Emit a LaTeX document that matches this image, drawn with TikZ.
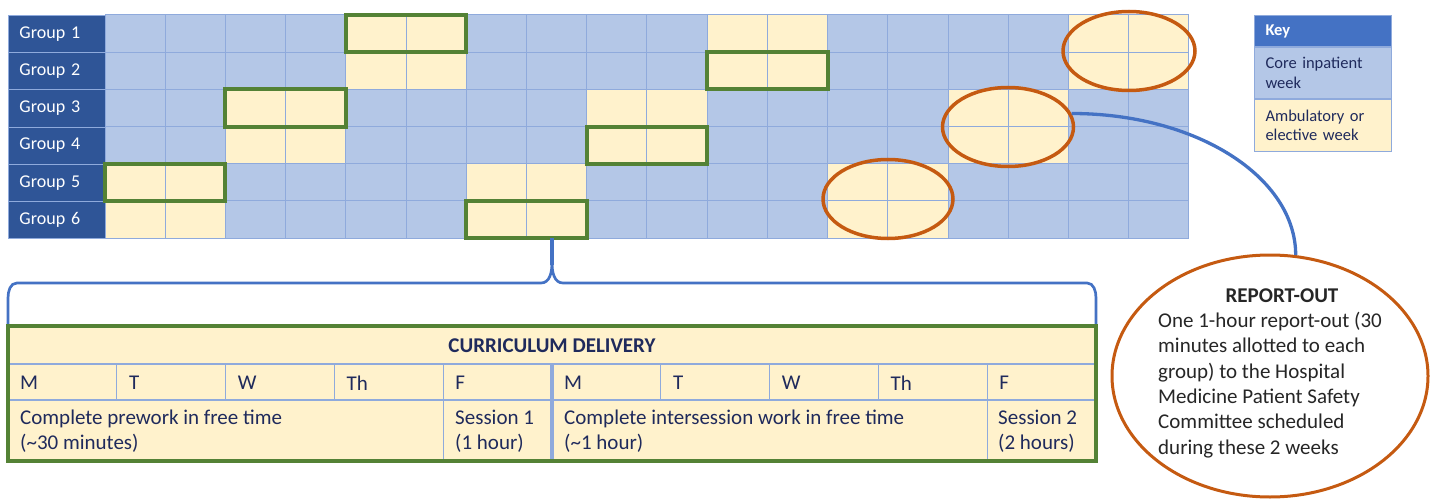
\documentclass[tikz,border=0pt]{standalone}
\usepackage{fontspec}
\setmainfont{Carlito}
\usepackage{tikz}
\usetikzlibrary{shapes.geometric, calc, positioning}

\definecolor{labelblue}{HTML}{2F5597}
\definecolor{cellblue}{HTML}{B4C7E7}
\definecolor{cellyellow}{HTML}{FFF2CC}
\definecolor{gridblue}{HTML}{8FAADC}
\definecolor{boxgreen}{HTML}{548235}
\definecolor{ovalorange}{HTML}{C55A11}
\definecolor{linkblue}{HTML}{4472C4}
\definecolor{textnavy}{HTML}{1F2A5C}
\definecolor{textdark}{HTML}{262626}

\tikzset{
  grouplabel/.style={anchor=north west, fill=labelblue, draw=gridblue, line width=1,
    text=white, text width=75pt, inner xsep=11pt, inner ysep=0pt,
    minimum height=37.17pt, align=left, font=\fontsize{18}{22}\selectfont},
  weekbox/.style={draw=boxgreen, line width=4},
  oval/.style={ellipse, draw=ovalorange, line width=3.5, inner sep=0pt},
  keycell/.style={anchor=north west, draw=gridblue, line width=1, text=textnavy,
    text width=115pt, inner xsep=11pt, inner ysep=0pt, align=left,
    font=\fontsize{16.5}{19.5}\selectfont},
  daytext/.style={anchor=west, inner sep=0pt, text=textnavy,
    font=\fontsize{21}{25.3}\selectfont},
  worktext/.style={daytext, align=left},
  link/.style={draw=linkblue, line width=2.7}
}

\begin{document}
\begin{tikzpicture}[x=1pt, y=-1pt]
  \useasboundingbox (0,0) rectangle (1430,500);

  % Week grid
  \fill[cellblue] (105,15) rectangle (1189,238);
  \foreach \g/\s in {1/5, 2/5, 3/3, 4/3, 5/1, 6/1}
    \foreach \k in {0,6,12}
      \fill[cellyellow] ({105+(\s+\k-1)*60.22},{15+(\g-1)*37.17}) rectangle +(120.44,37.17);
  \foreach \i in {0,...,18}
    \draw[gridblue, line width=1] ({105+\i*60.22},15) -- ({105+\i*60.22},238);
  \foreach \j in {0,...,6}
    \draw[gridblue, line width=1] (105,{15+\j*37.17}) -- (1189,{15+\j*37.17});

  % Group labels
  \foreach \g in {1,...,6}
    \node[grouplabel] (group\g) at (8,{15+(\g-1)*37.17}) {Group \g};

  % Curriculum weeks
  \foreach \g/\c in {1/5, 2/11, 3/3, 4/9, 5/1, 6/7}
    \draw[weekbox] ({105+(\c-1)*60.22},{15+(\g-1)*37.17}) rectangle +(120.44,37.17);

  % Report-out weeks
  \node[oval, minimum width=132pt, minimum height=79pt] (ovalA) at (1129,51) {};
  \node[oval, minimum width=131pt, minimum height=79pt] (ovalB) at (1008,127) {};
  \node[oval, minimum width=130pt, minimum height=79pt] (ovalC) at (888,199) {};

  % Key
  \node[keycell, fill=linkblue, text=white, minimum height=31pt,
        font=\fontsize{16.5}{19.5}\selectfont\bfseries] (keyhead) at (1254,15) {Key};
  \node[keycell, fill=cellblue, minimum height=51pt] (keycore) at (keyhead.south west) {Core inpatient\\week};
  \node[keycell, fill=cellyellow, minimum height=52pt] (keyamb) at (keycore.south west) {Ambulatory or\\elective week};

  % Brace
  \coordinate (bracetip) at (552,238);
  \draw[link] (8,326) -- (8,298) to[out=90,in=180] (17,283) -- (541,283)
    to[out=0,in=-90] (552,263);
  \draw[link] (552,263) to[out=-90,in=180] (563,283) -- (1087,283)
    to[out=0,in=90] (1096,298) -- (1096,326);
  \draw[link, line width=4] (552,265) -- (bracetip);

  % Curriculum delivery table
  \fill[cellyellow] (8,326) rectangle (1096,461);
  \draw[gridblue, line width=1.2] (8,364) -- (1096,364) (8,400) -- (1096,400);
  \foreach \i in {1,2,3,6,7,8}
    \draw[gridblue, line width=1.2] ({8+\i*108.8},364) -- ({8+\i*108.8},400);
  \foreach \i in {4,9}
    \draw[gridblue, line width=1.2] ({8+\i*108.8},364) -- ({8+\i*108.8},461);
  \draw[gridblue, line width=4] (552,364) -- (552,461);
  \draw[boxgreen, line width=3.5] (8,326) rectangle (1096,461);

  \node[daytext, anchor=center, font=\fontsize{21}{25.3}\selectfont\bfseries] (curtitle) at (552,346) {CURRICULUM DELIVERY};
  \foreach \d [count=\n from 0] in {M,T,W,Th,F,M,T,W,Th,F}
    \node[daytext] (day\n) at ({8+\n*108.8+12},383) {\d};
  \node[worktext] (prework) at (20,431.5) {Complete prework in free time\\(\textasciitilde30 minutes)};
  \node[worktext] (session1) at (455,431.5) {Session 1\\(1 hour)};
  \node[worktext] (interwork) at (564,431.5) {Complete intersession work in free time\\(\textasciitilde1 hour)};
  \node[worktext] (session2) at (998,431.5) {Session 2\\(2 hours)};

  % Report-out
  \node[oval, fill=white, line width=3, minimum width=316pt, minimum height=242pt] (reportout) at (1270,376) {};
  \draw[link, line width=3.3] (ovalB.12) .. controls +(125,0) and +(0,-78) .. (reportout.78);
  \node[daytext, anchor=center, text=textdark, font=\fontsize{21}{25.3}\selectfont\bfseries] (reporttitle) at (1282,296) {REPORT-OUT};
  \node[worktext, text=textdark] (reportbody) at (1158,385) {One 1-hour report-out (30\\minutes allotted to each\\group) to the Hospital\\Medicine Patient Safety\\Committee scheduled\\during these 2 weeks};
\end{tikzpicture}
\end{document}
